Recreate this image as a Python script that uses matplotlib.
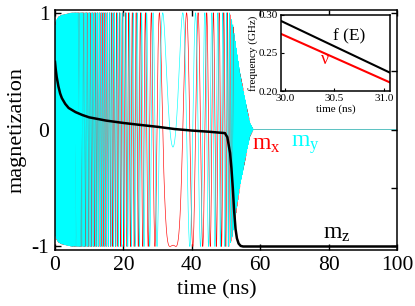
import numpy as np
import matplotlib
matplotlib.use('Agg')
import matplotlib.pyplot as plt

plt.rcParams['font.family'] = 'Liberation Serif'
plt.rcParams['mathtext.fontset'] = 'custom'
plt.rcParams['mathtext.rm'] = 'Liberation Serif'
plt.rcParams['mathtext.it'] = 'Liberation Serif:italic'

# m_z
mz_t = [0, 0.2, 0.5, 1, 1.5, 2, 3, 4, 6, 8, 10, 15, 20, 25, 30, 35, 40, 45, 49.7,
        50.4, 51.2, 51.6, 52, 52.4, 52.8, 53.2, 53.7, 54.3, 55, 100]
mz_v = [0.58, 0.52, 0.45, 0.37, 0.31, 0.27, 0.22, 0.185, 0.15, 0.125, 0.105, 0.077,
        0.057, 0.04, 0.024, 0.005, -0.008, -0.018, -0.03,
        -0.065, -0.2, -0.33, -0.5, -0.7, -0.85, -0.93, -0.975, -0.995, -1.0, -1.0]

# apparent precession frequency of m_x, m_y as seen in the plot (cycles/ns)
freq_t = [0, 5, 10, 15, 20, 25, 28, 30, 31.5, 32, 34.5, 36, 38.3, 40, 43, 45, 47, 49,
          50, 51, 52, 53, 55, 100]
freq_v = [4.5, 3.2, 2.3, 1.6, 1.1, 0.75, 0.52, 0.38, 0.2, 0.15, 0.0, -0.1, -0.25, -0.29,
          -0.38, -0.5, -0.58, -0.75, -0.9, -1.5, -2.5, -3.5, -4.0, -4.0]

# in-plane amplitude (envelope of m_x, m_y)
amp_t = [0, 0.3, 1, 2, 5, 49.5, 51, 52, 53, 54, 55, 56, 57, 58, 100]
amp_v = [0.88, 0.93, 0.965, 0.98, 1.0, 1.0, 1.0, 0.9, 0.7, 0.5, 0.35, 0.2, 0.06, 0.0, 0.0]

# inset
inset_t = [29.9, 30.5, 31.1]
f_E = [0.2957, 0.2586, 0.2216]
nu = [0.2785, 0.2437, 0.2089]

t = np.arange(0, 100.0001, 0.005)
f = np.interp(t, freq_t, freq_v)
phase = 2 * np.pi * np.concatenate([[0], np.cumsum(0.5 * (f[1:] + f[:-1]) * np.diff(t))])
phase += (np.pi + 0.15) - np.interp(34.5, t, phase)
amp = np.interp(t, amp_t, amp_v)
mx = amp * np.cos(phase)
my = amp * np.sin(phase)

fig = plt.figure(figsize=(4.15, 3.06), dpi=100)
ax = fig.add_axes([0.1325, 0.183, 0.824, 0.783])
ax.plot(t, mx, color='red', lw=0.45)
ax.plot(t, my, color='cyan', lw=0.45)
ax.plot(mz_t, mz_v, color='black', lw=1.8)

ax.set_xlim(0, 100)
ax.set_ylim(-1.03, 1.02)
ax.set_xticks([0, 20, 40, 60, 80, 100])
ax.set_yticks([-1, -0.5, 0, 0.5, 1])
ax.set_yticklabels(['-1', '', '0', '', '1'])
ax.tick_params(direction='in', top=True, right=True, length=4, width=1, labelsize=15.5, pad=4)
for s in ax.spines.values():
    s.set_linewidth(1.1)
ax.set_xlabel('time (ns)', fontsize=16, labelpad=6)
ax.xaxis.set_label_coords(0.474, -0.125)
ax.set_ylabel('magnetization', fontsize=16, labelpad=4)

ax.text(61.7, -0.13, r'$\mathrm{m_x}$', color='red', fontsize=17, ha='center', va='center')
ax.text(73.1, -0.13, r'$\mathrm{m_y}$', color='cyan', fontsize=17, ha='center', va='center')
ax.text(82.5, -0.885, r'$\mathrm{m_z}$', color='black', fontsize=17, ha='center', va='center')

ins = fig.add_axes([0.677, 0.7026, 0.2627, 0.249])
ins.plot(inset_t, f_E, color='black', lw=1.5)
ins.plot(inset_t, nu, color='red', lw=1.5)
ins.set_xlim(29.96, 31.06)
ins.set_ylim(0.2, 0.3)
ins.set_xticks([30, 30.5, 31])
ins.set_xticklabels(['30.0', '30.5', '31.0'])
ins.set_yticks([0.2, 0.25, 0.3])
ins.set_yticklabels(['0.20', '0.25', '0.30'])
ins.tick_params(direction='in', length=2, width=0.8, labelsize=8, pad=2)
for s in ins.spines.values():
    s.set_linewidth(1.1)
ins.set_xlabel('time (ns)', fontsize=8, labelpad=1)
ins.set_ylabel('frequency (GHz)', fontsize=8, labelpad=1)
ins.text(30.65, 0.272, 'f (E)', fontsize=12.5, ha='center', va='center')
ins.text(30.4, 0.241, 'ν', color='red', fontsize=13, ha='center', va='center')

fig.savefig('out.png', dpi=100)
